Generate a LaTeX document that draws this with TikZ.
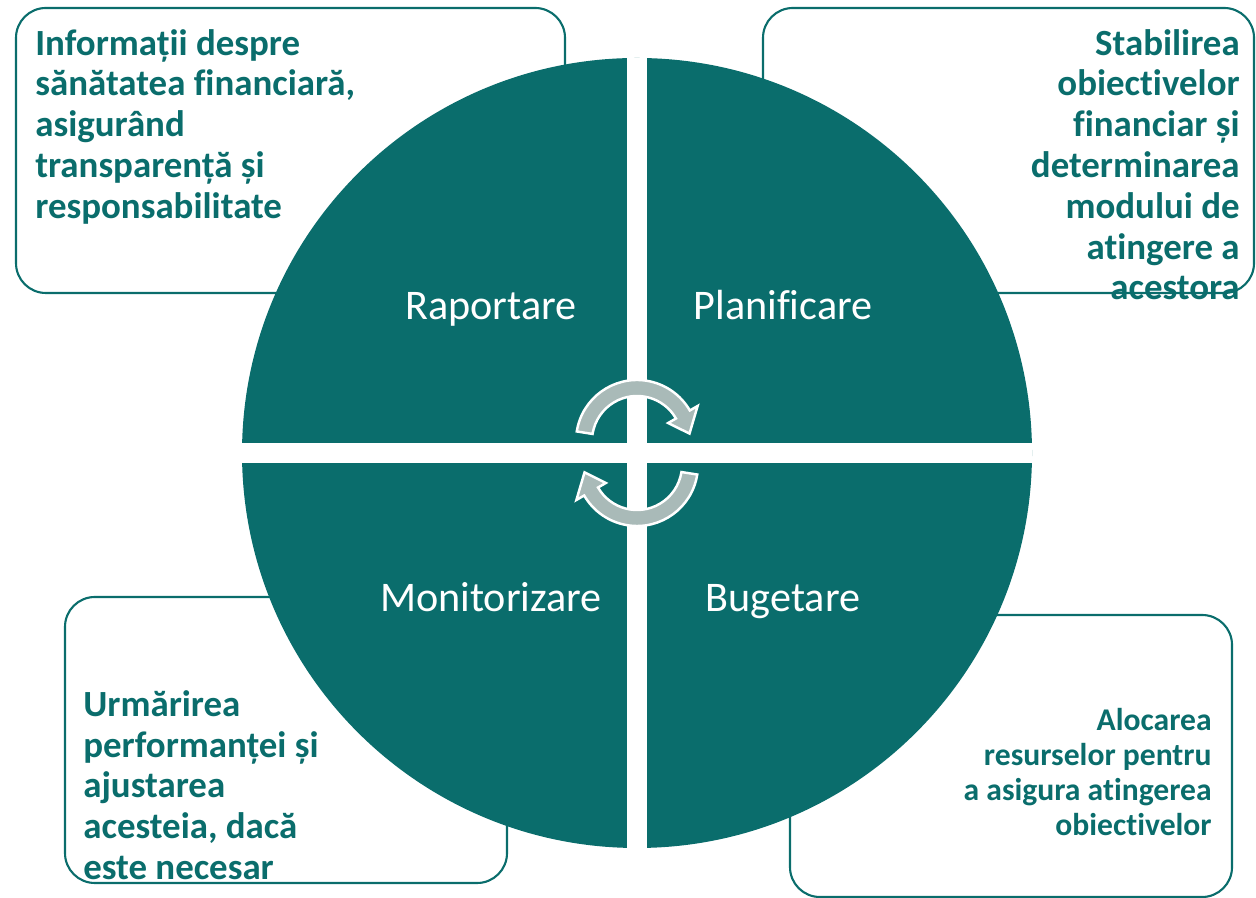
\documentclass[tikz,border=0pt]{standalone}
\usepackage{fontspec}
\setmainfont{Carlito}[Ligatures=NoCommon]
\definecolor{tealdark}{HTML}{0A6D6C}
\definecolor{arrowgray}{HTML}{A9BAB8}
\tikzset{
  infobox/.style={draw=tealdark, line width=1.2pt, rounded corners=17pt},
  infotext/.style={text=tealdark, font=\fontsize{21}{23.2}\selectfont\bfseries, inner sep=0pt},
  smalltext/.style={infotext, font=\fontsize{18}{19.9}\selectfont\bfseries},
  phase/.style={text=white, font=\fontsize{24}{28}\selectfont, inner sep=0pt, anchor=base},
  cyclearrow/.style={fill=arrowgray, draw=white, line width=1.4pt},
}
\begin{document}
\begin{tikzpicture}[x=0.02cm, y=0.02cm]
\useasboundingbox (0,0) rectangle (1256,898);
\coordinate (c) at (637,445);

% frames behind the wheel
\draw[infobox] (16,890) rectangle (565,605);
\draw[infobox] (763,890) rectangle (1254,605);
\draw[infobox] (65,301) rectangle (507,15);
\draw[infobox] (790,283) rectangle (1232,1);

% wheel
\fill[tealdark] (c) circle (395);
\begin{scope}
\clip (c) circle (395);
\fill[white] (627,0) rectangle (647,898);
\fill[white] (0,435) rectangle (1256,455);
\end{scope}

\node[phase] (rap) at (491,578) {Raportare};
\node[phase] (plan) at (783,578) {Planificare};
\node[phase] (mon) at (491,286) {Monitorizare};
\node[phase] (buget) at (783,286) {Bugetare};

% cycle arrows
\filldraw[cyclearrow, shift={(637,457)}] (171:61) arc[start angle=171, end angle=30, radius=61]
  -- (30:70) -- (8:53) -- (30:36) -- (30:45) arc[start angle=30, end angle=171, radius=45] -- cycle;
\filldraw[cyclearrow, shift={(637,433)}] (351:61) arc[start angle=351, end angle=210, radius=61]
  -- (210:70) -- (188:53) -- (210:36) -- (210:45) arc[start angle=210, end angle=351, radius=45] -- cycle;

% descriptions
\node[infotext, anchor=north west, align=left] (rapinfo) at (35,869)
  {Informații despre\\sănătatea financiară,\\asigurând\\transparență și\\responsabilitate};
\node[infotext, anchor=north east, align=right] (planinfo) at (1240,869)
  {Stabilirea\\obiectivelor\\financiar și\\determinarea\\modului de\\atingere a\\acestora};
\node[infotext, anchor=north west, align=left] (moninfo) at (83,208)
  {Urmărirea\\performanței și\\ajustarea\\acesteia, dacă\\este necesar};
\node[smalltext, anchor=north east, align=right] (bugetinfo) at (1212,190)
  {Alocarea\\resurselor pentru\\a asigura atingerea\\obiectivelor};
\end{tikzpicture}
\end{document}
